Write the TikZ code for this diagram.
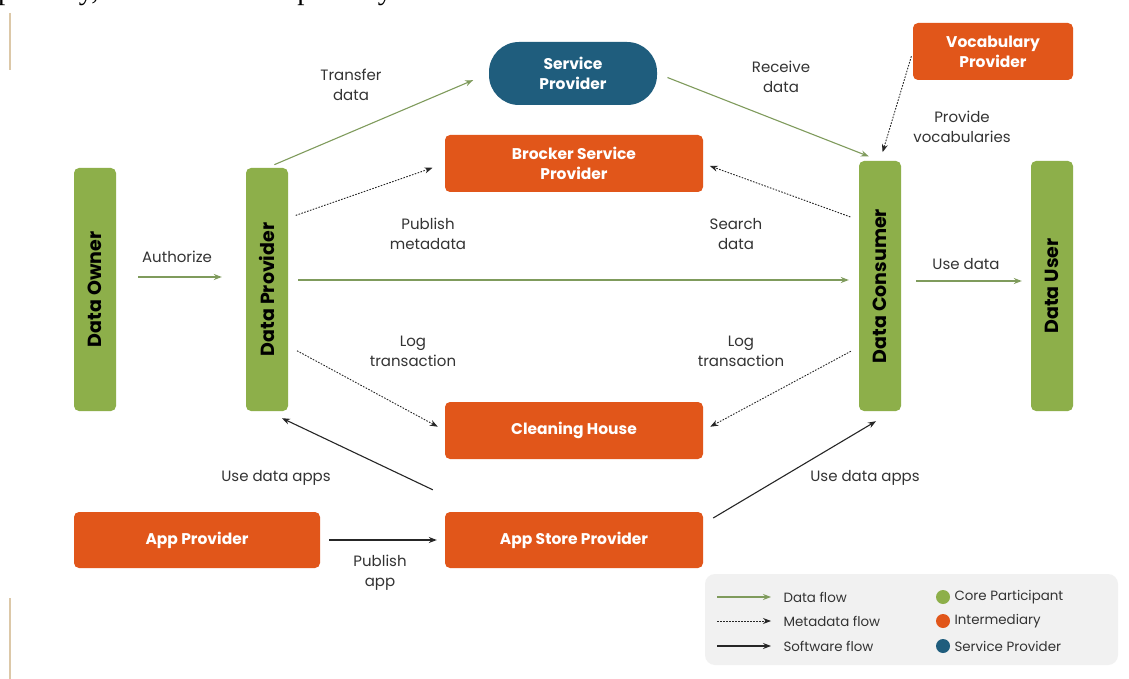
\documentclass[tikz,border=0pt]{standalone}
\usepackage{fontspec}
\setmainfont{Poppins}
\newfontfamily\pagefont{Liberation Serif}
\usepackage{tikz}
\usetikzlibrary{arrows.meta,positioning}

\definecolor{coregreen}{HTML}{8DAF4A}
\definecolor{interorange}{HTML}{E1561A}
\definecolor{servteal}{HTML}{1F5D7D}
\definecolor{flowgreen}{HTML}{7F9B5C}
\definecolor{labelgray}{HTML}{333333}
\definecolor{keygray}{HTML}{F1F1F1}
\definecolor{margintan}{HTML}{DCC8A8}

\tikzset{
  corebar/.style={fill=coregreen,rounded corners=5pt,minimum width=42pt,inner sep=0pt},
  bartext/.style={rotate=90,font=\bfseries\fontsize{19}{20}\selectfont},
  midbox/.style={fill=interorange,rounded corners=5pt,minimum height=57pt,inner sep=0pt,
    text=white,align=center,font=\bfseries\fontsize{15.5}{20}\selectfont},
  lbl/.style={align=center,text=labelgray,font=\fontsize{15}{20}\selectfont},
  keytext/.style={anchor=west,text=labelgray,font=\fontsize{13.4}{15}\selectfont},
  dataflow/.style={draw=flowgreen,line width=1.1pt,-{Stealth[length=8pt,width=6pt]}},
  metaflow/.style={draw=black!85,line width=0.9pt,dash pattern=on 1.6pt off 1.4pt,-{Stealth[length=8pt,width=6pt]}},
  softflow/.style={draw=black!85,line width=1.1pt,-{Stealth[length=8pt,width=6pt]}}
}

\begin{document}
\begin{tikzpicture}[x=1pt,y=-1pt]
\useasboundingbox[fill=white] (0,0) rectangle (1129,679);
% page bits around the figure
\node[anchor=base west,inner sep=0pt,font=\pagefont\fontsize{29}{29}\selectfont] (pagetext) at (-2,-0.5) {pository, and the Trust Repository.};
\draw[margintan,line width=2pt] (10,13) -- (10,70);
\draw[margintan,line width=2pt] (10,598) -- (10,679);

% participants
\node[corebar,minimum height=243pt] (do) at (95,289.5) {};
\node[bartext] (dotext) at (do) {Data Owner};
\node[corebar,minimum height=243pt] (dp) at (267,289.5) {};
\node[bartext] (dptext) at (dp) {Data Provider};
\node[corebar,minimum height=250pt] (dc) at (880,286) {};
\node[bartext] (dctext) at (dc) {Data Consumer};
\node[corebar,minimum height=250pt] (du) at (1052,286) {};
\node[bartext] (dutext) at (du) {Data User};

% intermediaries
\node[fill=servteal,rounded corners=30pt,minimum width=168pt,minimum height=63pt,inner sep=0pt,
  text=white,align=center,font=\bfseries\fontsize{15.5}{20}\selectfont] (sp) at (573,73.5) {Service\\Provider};
\node[midbox,minimum width=258pt] (bsp) at (574,163.5) {Brocker Service\\Provider};
\node[midbox,minimum width=160pt] (vp) at (993,51.5) {Vocabulary\\Provider};
\node[midbox,minimum width=258pt] (ch) at (574,430.5) {Cleaning House};
\node[midbox,minimum width=258pt,minimum height=56pt] (asp) at (574,540) {App Store Provider};
\node[midbox,minimum width=246pt,minimum height=56pt] (ap) at (197,540) {App Provider};

% data flow
\draw[dataflow,shorten <=22pt,shorten >=24pt] ([yshift=12.5pt]do.east) -- ([yshift=12.5pt]dp.west);
\draw[dataflow,shorten <=10pt,shorten >=10pt] ([yshift=9.5pt]dp.east) -- ([yshift=6pt]dc.west);
\draw[dataflow,shorten <=15pt,shorten >=9pt] ([yshift=5pt]dc.east) -- ([yshift=5pt]du.west);
\draw[dataflow,shorten <=8pt,shorten >=17pt] (dp.north) -- (sp.west);
\draw[dataflow,shorten <=11pt,shorten >=12pt] (sp.east) -- (dc.north);

% metadata flow
\draw[metaflow,shorten <=5pt,shorten >=9pt] (vp.west) -- (dc.north);
\draw[metaflow,shorten <=8pt,shorten >=13pt] ([yshift=71.5pt]dp.east) -- (bsp.west);
\draw[metaflow,shorten <=9pt,shorten >=7pt] ([yshift=66pt]dc.west) -- (bsp.east);
\draw[metaflow,shorten <=10pt,shorten >=8pt] ([yshift=-56.5pt]dp.east) -- (ch.west);
\draw[metaflow,shorten <=9pt,shorten >=8pt] ([yshift=-61pt]dc.west) -- (ch.east);

% software flow
\draw[softflow] ([xshift=-12pt,yshift=22pt]asp.north west) -- ([xshift=15pt,yshift=-7pt]dp.south);
\draw[softflow] ([xshift=10pt,yshift=22pt]asp.east) -- ([xshift=-4pt,yshift=-10pt]dc.south);
\draw[softflow,shorten <=9pt,shorten >=8pt] (ap.east) -- (asp.west);

% labels
\node[lbl] (ltransfer) at (351,85) {Transfer\\data};
\node[lbl] (lreceive) at (781,77) {Receive\\data};
\node[lbl] (lvocab) at (962,127) {Provide\\vocabularies};
\node[lbl] (lpublish) at (428,234) {Publish\\metadata};
\node[lbl] (lsearch) at (736,234) {Search\\data};
\node[lbl] (lauth) at (177,257) {Authorize};
\node[lbl] (lusedata) at (966,264) {Use data};
\node[lbl] (llogl) at (413,351) {Log\\transaction};
\node[lbl] (llogr) at (741,351) {Log\\transaction};
\node[lbl] (lappsl) at (276,478) {Use data apps};
\node[lbl] (lappsr) at (865,478) {Use data apps};
\node[lbl] (lpubapp) at (380,573) {Publish\\app};

% legend
\node[fill=keygray,rounded corners=10pt,minimum width=413pt,minimum height=91pt,inner sep=0pt] (key) at (911.5,619.5) {};
\node[keytext] (kdata) at (780,597) {Data flow};
\node[keytext] (kmeta) at (780,621) {Metadata flow};
\node[keytext] (ksoft) at (780,646) {Software flow};
\draw[dataflow] ([xshift=-63pt]kdata.west) -- ([xshift=-9pt]kdata.west);
\draw[metaflow] ([xshift=-63pt]kmeta.west) -- ([xshift=-9pt]kmeta.west);
\draw[softflow] ([xshift=-63pt]ksoft.west) -- ([xshift=-9pt]ksoft.west);
\node[keytext] (kcore) at (951,597) {Core Participant};
\node[keytext] (kinter) at (951,621) {Intermediary};
\node[keytext] (kserv) at (951,646) {Service Provider};
\fill[coregreen] ([xshift=-8pt]kcore.west) circle (7pt);
\fill[interorange] ([xshift=-8pt]kinter.west) circle (7pt);
\fill[servteal] ([xshift=-8pt]kserv.west) circle (7pt);
\end{tikzpicture}
\end{document}
